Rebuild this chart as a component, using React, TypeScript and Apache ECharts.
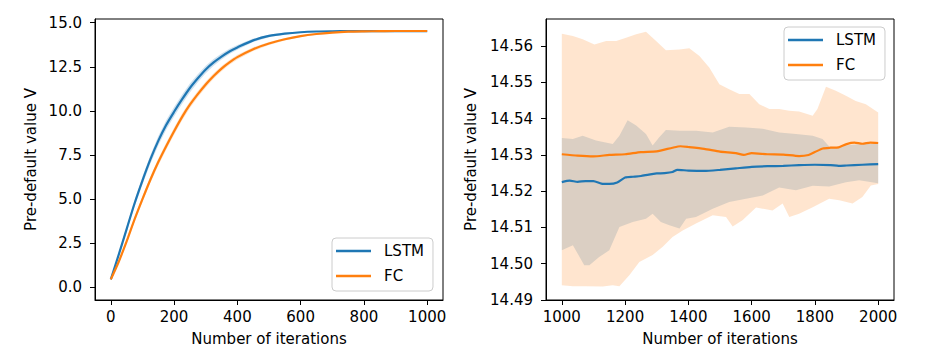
import React, { useEffect, useRef } from "react";
import * as echarts from "echarts";

// ---------- Left panel: iterations 0..1000 ----------
const leftIter = [0, 25, 50, 75, 100, 125, 150, 175, 200, 225, 250, 275, 300, 325, 350, 375, 400, 450, 500, 550, 600, 650, 700, 750, 800, 850, 900, 950, 1000];
const leftLstm = [0.45, 1.85, 3.3, 4.75, 6.05, 7.25, 8.3, 9.2, 9.95, 10.65, 11.3, 11.85, 12.35, 12.75, 13.08, 13.37, 13.6, 14.0, 14.25, 14.38, 14.46, 14.5, 14.515, 14.522, 14.525, 14.527, 14.527, 14.527, 14.527];
const leftFc = [0.45, 1.45, 2.6, 3.85, 5.0, 6.1, 7.1, 8.0, 8.85, 9.65, 10.35, 10.95, 11.5, 11.98, 12.4, 12.75, 13.05, 13.5, 13.82, 14.06, 14.24, 14.36, 14.44, 14.49, 14.51, 14.52, 14.53, 14.53, 14.53];
const leftLstmSpread = [0.05, 0.1, 0.15, 0.19, 0.22, 0.24, 0.26, 0.27, 0.27, 0.26, 0.25, 0.23, 0.21, 0.19, 0.17, 0.15, 0.13, 0.1, 0.07, 0.05, 0.04, 0.03, 0.02, 0.02, 0.01, 0.01, 0.01, 0.01, 0.01];
const leftFcSpread = [0.05, 0.08, 0.11, 0.14, 0.16, 0.18, 0.19, 0.2, 0.2, 0.2, 0.19, 0.18, 0.17, 0.16, 0.15, 0.14, 0.13, 0.11, 0.09, 0.07, 0.05, 0.04, 0.03, 0.02, 0.02, 0.01, 0.01, 0.01, 0.01];
const leftXTicks = [0, 200, 400, 600, 800, 1000];
const leftYTicks = [0, 2.5, 5, 7.5, 10, 12.5, 15];

// ---------- Right panel: iterations 1000..2000 ----------
const rightLstm: [number, number][] = [
  [1000, 14.5225], [1025, 14.5229], [1050, 14.5226], [1075, 14.5228], [1100, 14.5228], [1125, 14.5221],
  [1150, 14.522], [1175, 14.5224], [1200, 14.5238], [1225, 14.524], [1250, 14.5242], [1275, 14.5246],
  [1300, 14.5249], [1325, 14.525], [1350, 14.5253], [1365, 14.5259], [1400, 14.5257], [1450, 14.5256],
  [1500, 14.5259], [1550, 14.5263], [1600, 14.5267], [1650, 14.5269], [1700, 14.527], [1750, 14.5272],
  [1800, 14.5273], [1850, 14.5272], [1875, 14.527], [1900, 14.5271], [1950, 14.5273], [2000, 14.5275],
];
const rightFc: [number, number][] = [
  [1000, 14.5302], [1050, 14.5298], [1100, 14.5296], [1150, 14.53], [1200, 14.5302], [1250, 14.5308],
  [1300, 14.531], [1350, 14.532], [1375, 14.5324], [1400, 14.5322], [1450, 14.5317], [1500, 14.5309],
  [1550, 14.5305], [1575, 14.53], [1600, 14.5305], [1650, 14.5302], [1700, 14.5301], [1750, 14.5297],
  [1780, 14.53], [1800, 14.5308], [1825, 14.5318], [1850, 14.532], [1875, 14.5321], [1900, 14.533],
  [1925, 14.5334], [1950, 14.5331], [1975, 14.5334], [2000, 14.5333],
];
const rightFcUpper: [number, number][] = [
  [1000, 14.5634], [1035, 14.5628], [1066, 14.5619], [1103, 14.5605], [1140, 14.5614], [1172, 14.5614],
  [1203, 14.5623], [1235, 14.5633], [1266, 14.564], [1298, 14.5614], [1329, 14.5589], [1372, 14.5591],
  [1403, 14.5594], [1435, 14.5573], [1466, 14.5541], [1498, 14.5495], [1529, 14.5481], [1561, 14.5468],
  [1593, 14.5468], [1624, 14.544], [1656, 14.5427], [1687, 14.5427], [1719, 14.5422], [1750, 14.542],
  [1793, 14.5408], [1808, 14.5427], [1835, 14.5488], [1866, 14.5477], [1898, 14.5463], [1929, 14.5449],
  [1961, 14.544], [2000, 14.5417],
];
const rightFcLower: [number, number][] = [
  [1000, 14.4941], [1035, 14.4938], [1077, 14.4938], [1129, 14.4937], [1161, 14.4941], [1182, 14.4938],
  [1214, 14.4969], [1245, 14.5005], [1287, 14.5024], [1319, 14.5047], [1350, 14.5074], [1382, 14.5092],
  [1424, 14.5111], [1477, 14.5134], [1519, 14.5129], [1540, 14.5103], [1571, 14.512], [1614, 14.5155],
  [1666, 14.5147], [1698, 14.5166], [1719, 14.5129], [1750, 14.5138], [1793, 14.5156], [1845, 14.5179],
  [1877, 14.5175], [1919, 14.5166], [1950, 14.5184], [1977, 14.5216], [2000, 14.522],
];
const rightLstmUpper: [number, number][] = [
  [1000, 14.5347], [1035, 14.5344], [1066, 14.5353], [1108, 14.534], [1161, 14.533], [1182, 14.5353],
  [1208, 14.5396], [1235, 14.5381], [1266, 14.5358], [1287, 14.5326], [1308, 14.5349], [1329, 14.5369],
  [1372, 14.5367], [1424, 14.5367], [1477, 14.5362], [1529, 14.5378], [1582, 14.5376], [1635, 14.5372],
  [1687, 14.5362], [1740, 14.5358], [1793, 14.5353], [1824, 14.5344], [1846, 14.5323], [1877, 14.5321],
  [1900, 14.5327], [1950, 14.533], [2000, 14.533],
];
const rightLstmLower: [number, number][] = [
  [1000, 14.5037], [1035, 14.5051], [1071, 14.4996], [1087, 14.4996], [1119, 14.5019], [1150, 14.5037],
  [1182, 14.5101], [1224, 14.5115], [1266, 14.5124], [1287, 14.5138], [1313, 14.5115], [1340, 14.5106],
  [1372, 14.5097], [1393, 14.5124], [1424, 14.5129], [1477, 14.5152], [1529, 14.517], [1582, 14.5179],
  [1635, 14.5188], [1687, 14.521], [1740, 14.5203], [1793, 14.5215], [1845, 14.5213], [1898, 14.5225],
  [1940, 14.523], [2000, 14.5222],
];
const rightXTicks = [1000, 1200, 1400, 1600, 1800, 2000];
const rightYTicks = [14.49, 14.5, 14.51, 14.52, 14.53, 14.54, 14.55, 14.56];

const BLUE = "#1f77b4";
const ORANGE = "#ff7f0e";
const FONT = "DejaVu Sans";

function bandSeries(name: string, upper: [number, number][], lower: [number, number][], fill: string, axisIndex: number, z: number) {
  const poly = [...upper, ...lower.slice().reverse()];
  return {
    type: "custom",
    name,
    xAxisIndex: axisIndex,
    yAxisIndex: axisIndex,
    silent: true,
    z,
    clip: true,
    data: [poly[0]],
    encode: { x: 0, y: 1 },
    renderItem: (params: any, api: any) => {
      if (params.dataIndex !== 0) return null;
      const pts = poly.map((p) => api.coord(p));
      return { type: "polygon", shape: { points: pts }, style: { fill } };
    },
  };
}

function lineSeries(name: string, data: [number, number][], color: string, axisIndex: number, smooth: number) {
  return {
    type: "line",
    name,
    xAxisIndex: axisIndex,
    yAxisIndex: axisIndex,
    data,
    symbol: "none",
    showSymbol: false,
    smooth,
    z: 5,
    lineStyle: { color, width: 2.2 },
    itemStyle: { color },
  };
}

function xAxisDef(gridIndex: number, min: number, max: number, ticks: number[]) {
  return {
    type: "value",
    gridIndex,
    min,
    max,
    name: "Number of iterations",
    nameLocation: "middle",
    nameGap: 31,
    nameTextStyle: { fontFamily: FONT, fontSize: 15, color: "#000" },
    axisLine: { show: true, onZero: false, lineStyle: { color: "#000", width: 1 } },
    axisTick: { show: true, customValues: ticks, length: 5, lineStyle: { color: "#000", width: 1 } },
    axisLabel: { customValues: ticks, fontFamily: FONT, fontSize: 15, color: "#000", margin: 9, formatter: (v: number) => String(v) },
    splitLine: { show: false },
  };
}

function yAxisDef(gridIndex: number, min: number, max: number, ticks: number[], digits: number, gap: number) {
  return {
    type: "value",
    gridIndex,
    min,
    max,
    name: "Pre-default value V",
    nameLocation: "middle",
    nameGap: gap,
    nameTextStyle: { fontFamily: FONT, fontSize: 15, color: "#000" },
    axisLine: { show: true, onZero: false, lineStyle: { color: "#000", width: 1 } },
    axisTick: { show: true, customValues: ticks, length: 5, lineStyle: { color: "#000", width: 1 } },
    axisLabel: { customValues: ticks, fontFamily: FONT, fontSize: 15, color: "#000", margin: 13, formatter: (v: number) => v.toFixed(digits) },
    splitLine: { show: false },
  };
}

function legendDef(left: number, top: number) {
  return {
    data: ["LSTM", "FC"],
    orient: "vertical",
    left,
    top,
    icon: "rect",
    itemWidth: 35,
    itemHeight: 2.4,
    itemGap: 7,
    padding: [4, 9, 6, 4],
    backgroundColor: "rgba(255,255,255,0.8)",
    borderColor: "#cccccc",
    borderWidth: 1,
    borderRadius: 4,
    selectedMode: false,
    textStyle: { fontFamily: FONT, fontSize: 15, color: "#000", padding: [0, 0, 0, 8], lineHeight: 18 },
  };
}

export default function App() {
  const ref = useRef<HTMLDivElement>(null);
  useEffect(() => {
    if (!ref.current) return;
    const chart = echarts.init(ref.current, undefined, { renderer: "svg" });

    const leftLstmPts = leftIter.map((x, i) => [x, leftLstm[i]] as [number, number]);
    const leftFcPts = leftIter.map((x, i) => [x, leftFc[i]] as [number, number]);
    const leftLstmUp = leftIter.map((x, i) => [x, leftLstm[i] + leftLstmSpread[i]] as [number, number]);
    const leftLstmLo = leftIter.map((x, i) => [x, leftLstm[i] - leftLstmSpread[i]] as [number, number]);
    const leftFcUp = leftIter.map((x, i) => [x, leftFc[i] + leftFcSpread[i]] as [number, number]);
    const leftFcLo = leftIter.map((x, i) => [x, leftFc[i] - leftFcSpread[i]] as [number, number]);

    chart.setOption({
      animation: false,
      backgroundColor: "#ffffff",
      grid: [
        { left: 95, top: 19, width: 348, height: 281, show: true, borderColor: "#000", borderWidth: 1, backgroundColor: "transparent" },
        { left: 546, top: 19, width: 348, height: 281, show: true, borderColor: "#000", borderWidth: 1, backgroundColor: "transparent" },
      ],
      xAxis: [xAxisDef(0, -50, 1050, leftXTicks), xAxisDef(1, 950, 2050, rightXTicks)],
      yAxis: [yAxisDef(0, -0.72, 15.21, leftYTicks, 1, 57), yAxisDef(1, 14.49, 14.5675, rightYTicks, 2, 68)],
      legend: [legendDef(332, 238), legendDef(784, 27)],
      series: [
        lineSeries("LSTM", leftLstmPts, BLUE, 0, 0.3),
        lineSeries("FC", leftFcPts, ORANGE, 0, 0.3),
        bandSeries("LSTM band L", leftLstmUp, leftLstmLo, "rgba(31,119,180,0.22)", 0, 2),
        bandSeries("FC band L", leftFcUp, leftFcLo, "rgba(255,127,14,0.22)", 0, 3),
        bandSeries("LSTM band R", rightLstmUpper, rightLstmLower, "rgba(31,119,180,0.2)", 1, 2),
        bandSeries("FC band R", rightFcUpper, rightFcLower, "rgba(255,127,14,0.2)", 1, 3),
        lineSeries("LSTM", rightLstm, BLUE, 1, 0.2),
        lineSeries("FC", rightFc, ORANGE, 1, 0.2),
      ],
    });
    return () => chart.dispose();
  }, []);
  return <div ref={ref} style={{ position: "absolute", left: 0, top: 0, width: 941, height: 353 }} />;
}
